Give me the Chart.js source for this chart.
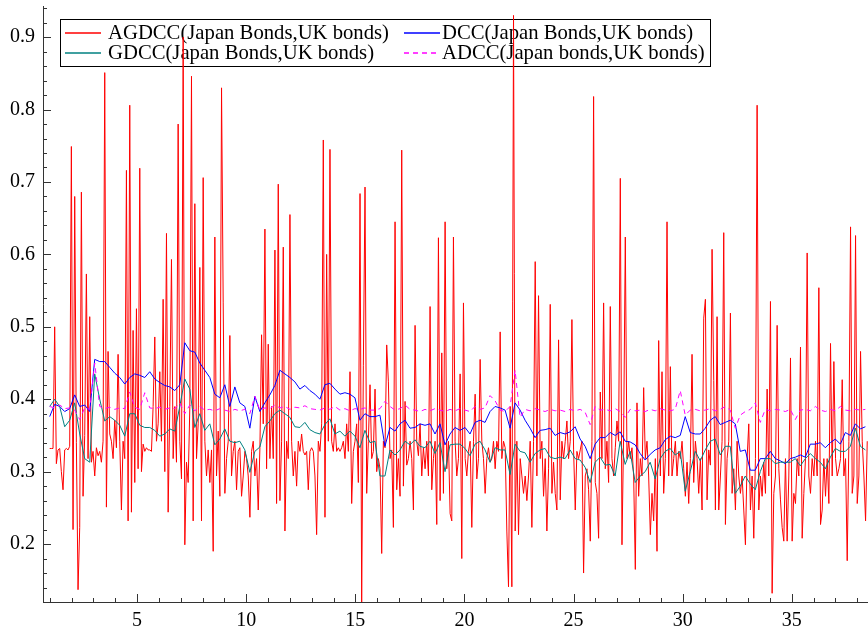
<!DOCTYPE html>
<html>
<head>
<meta charset="utf-8">
<script src="https://cdn.jsdelivr.net/npm/chart.js@4.4.1/dist/chart.umd.min.js"></script>
<style>
  html, body { margin: 0; padding: 0; background: #fff; overflow: hidden; }
  canvas { display: block; }
</style>
</head>
<body>
<canvas id="chart" width="868" height="632"></canvas>
<script>
// series labels
const seriesLabels = [
    "AGDCC(Japan Bonds,UK bonds)",
    "DCC(Japan Bonds,UK bonds)",
    "GDCC(Japan Bonds,UK bonds)",
    "ADCC(Japan bonds,UK bonds)"
];

// time span covered by every series (x axis units)
const tStart = 0.994;
const tEnd = 38.455;
const tEndSmooth = 38.37;

// AGDCC (dense, spiky)
const agdcc = [
    0.332,0.332,0.332,0.50,0.311,0.33,0.332,0.30,0.275,0.33,
    0.332,0.33,0.335,0.749,0.22,0.68,0.34,0.137,0.223,0.686,
    0.266,0.35,0.573,0.318,0.514,0.313,0.328,0.294,0.333,0.322,
    0.328,0.313,0.342,0.851,0.251,0.466,0.352,0.342,0.318,0.371,
    0.333,0.462,0.342,0.247,0.342,0.318,0.716,0.232,0.806,0.244,
    0.495,0.285,0.525,0.304,0.719,0.30,0.338,0.328,0.333,0.33,
    0.33,0.328,0.39,0.486,0.342,0.366,0.438,0.342,0.538,0.30,
    0.629,0.244,0.39,0.593,0.318,0.39,0.313,0.78,0.342,0.29,
    0.90,0.199,0.313,0.285,0.39,0.846,0.232,0.67,0.318,0.366,
    0.582,0.232,0.706,0.342,0.294,

    0.33,0.285,0.33,0.19,0.624,0.294,0.356,0.266,0.83,0.533,
    0.27,0.318,0.342,0.488,0.294,0.328,0.342,0.275,0.328,0.333,
    0.266,0.294,0.328,0.318,0.294,0.237,0.328,0.342,0.294,0.318,
    0.247,0.333,0.489,0.366,0.635,0.304,0.476,0.318,0.39,0.318,
    0.606,0.256,0.697,0.26,0.342,0.61,0.218,0.342,0.318,0.655,
    0.342,0.294,0.328,0.28,0.342,0.328,0.352,0.328,0.323,0.328,
    0.275,0.328,0.333,0.328,0.294,0.213,0.342,0.328,0.366,0.758,
    0.237,0.60,0.342,0.745,0.342,0.328,0.366,0.328,0.333,0.328,
    0.333,0.342,0.318,0.366,0.328,0.438,0.256,0.328,0.342,0.366,
    0.285,0.684,0.12,0.447,0.693,0.27,0.342,0.42,0.318,

    0.328,0.414,0.30,0.318,0.304,0.187,0.342,0.333,0.475,0.424,
    0.318,0.33,0.223,0.645,0.275,0.318,0.266,0.744,0.28,0.397,
    0.309,0.318,0.342,0.318,0.247,0.502,0.342,0.322,0.366,0.294,
    0.333,0.304,0.342,0.294,0.528,0.275,0.318,0.342,0.227,0.623,
    0.26,0.464,0.27,0.645,0.304,0.342,0.242,0.232,0.624,0.342,
    0.294,0.318,0.435,0.18,0.533,0.318,0.294,0.328,0.342,0.223,
    0.342,0.407,0.29,0.318,0.455,0.342,0.318,0.27,0.318,0.333,
    0.313,0.318,0.342,0.304,0.342,0.328,0.493,0.318,0.342,0.333,
    0.218,0.141,0.39,0.141,0.93,0.218,0.342,0.213,0.318,0.294,
    0.27,0.294,0.26,0.294,0.342,0.223,0.342,0.59,0.294,

    0.543,0.318,0.342,0.266,0.318,0.218,0.304,0.531,0.27,0.313,
    0.27,0.247,0.482,0.261,0.342,0.318,0.342,0.37,0.318,0.342,
    0.51,0.33,0.247,0.328,0.318,0.33,0.342,0.16,0.294,0.304,
    0.275,0.204,0.342,0.818,0.285,0.27,0.208,0.41,0.318,0.533,
    0.304,0.342,0.285,0.528,0.318,0.294,0.333,0.37,0.342,0.705,
    0.199,0.352,0.624,0.318,0.342,0.318,0.333,0.294,0.165,0.395,
    0.266,0.318,0.294,0.416,0.318,0.342,0.294,0.213,0.27,0.232,
    0.318,0.19,0.481,0.294,0.438,0.27,0.318,0.645,0.294,0.445,
    0.294,0.318,0.342,0.294,0.328,0.318,0.342,0.304,0.266,0.313,
    0.256,0.318,0.462,0.285,0.342,0.318,0.27,0.318,0.247,

    0.512,0.538,0.261,0.33,0.309,0.607,0.426,0.247,0.514,0.247,
    0.294,0.342,0.63,0.227,0.318,0.342,0.519,0.27,0.304,0.247,
    0.342,0.294,0.27,0.294,0.247,0.199,0.318,0.366,0.247,0.294,
    0.208,0.318,0.806,0.247,0.294,0.266,0.313,0.27,0.414,0.294,
    0.535,0.132,0.27,0.294,0.502,0.304,0.261,0.223,0.204,0.318,
    0.204,0.294,0.457,0.204,0.27,0.256,0.318,0.294,0.472,0.208,
    0.27,0.318,0.602,0.294,0.27,0.318,0.294,0.342,0.294,0.554,
    0.227,0.247,0.318,0.266,0.318,0.256,0.477,0.294,0.452,0.318,
    0.294,0.304,0.318,0.427,0.294,0.318,0.177,0.342,0.638,0.27,
    0.294,0.626,0.256,0.294,0.466,0.342,0.294,0.232,0.342
];

// DCC
const dcc = [
    0.376,0.393,0.390,0.383,0.387,0.406,0.39,0.392,0.383,0.455,0.452,0.452,0.444,0.436,0.430,0.421,
    0.43,0.435,0.433,0.43,0.438,0.428,0.423,0.419,0.417,0.412,0.42,0.478,0.467,0.465,0.45,0.44,
    0.43,0.407,0.402,0.42,0.39,0.417,0.395,0.39,0.36,0.404,0.383,0.395,0.406,0.419,0.44,0.435,0.43,
    0.424,0.414,0.419,0.412,0.407,0.40,0.42,0.422,0.414,0.407,0.409,0.407,0.402,0.371,0.38,0.376,
    0.376,0.378,0.335,0.361,0.356,0.366,0.371,0.36,0.361,0.366,0.364,0.366,0.352,0.366,0.337,0.352,0.361,
    0.357,0.361,0.352,0.368,0.371,0.368,0.383,0.39,0.388,0.385,0.36,0.395,0.385,0.371,0.36,0.347,
    0.357,0.358,0.36,0.35,0.354,0.352,0.355,0.362,0.345,0.335,0.318,0.338,0.347,0.347,0.354,0.35,0.355,
    0.342,0.341,0.337,0.325,0.316,0.324,0.33,0.333,0.344,0.349,0.347,0.35,0.376,0.354,0.352,0.352,
    0.36,0.371,0.376,0.365,0.368,0.371,0.366,0.328,0.33,0.302,0.302,0.318,0.318,0.328,0.318,0.315,0.311,
    0.318,0.32,0.323,0.32,0.338,0.338,0.34,0.333,0.34,0.345,0.338,0.354,0.35,0.366,0.359,0.362
];

// GDCC
const gdcc = [
    0.39,0.4,0.39,0.362,0.371,0.395,0.352,0.318,0.313,0.435,0.4,0.37,0.376,0.371,0.364,0.349,
    0.38,0.38,0.364,0.361,0.361,0.357,0.349,0.352,0.359,0.356,0.39,0.428,0.414,0.361,0.38,0.357,
    0.366,0.337,0.345,0.359,0.342,0.34,0.342,0.33,0.299,0.328,0.334,0.362,0.37,0.38,0.385,0.38,0.375,
    0.362,0.361,0.368,0.358,0.354,0.352,0.365,0.373,0.352,0.356,0.349,0.356,0.349,0.333,0.357,0.34,
    0.342,0.294,0.294,0.33,0.323,0.33,0.342,0.337,0.344,0.335,0.333,0.342,0.325,0.34,0.3,0.337,0.338,
    0.338,0.332,0.322,0.338,0.342,0.33,0.313,0.333,0.33,0.33,0.296,0.338,0.328,0.326,0.313,0.325,
    0.33,0.332,0.32,0.318,0.32,0.318,0.33,0.318,0.316,0.306,0.285,0.313,0.32,0.309,0.31,0.294,0.342,
    0.31,0.328,0.285,0.294,0.3,0.313,0.29,0.318,0.328,0.332,0.323,0.328,0.273,0.3,0.328,0.315,
    0.33,0.342,0.345,0.323,0.335,0.335,0.27,0.28,0.294,0.283,0.275,0.3,0.318,0.318,0.311,0.313,0.313,
    0.313,0.318,0.308,0.318,0.325,0.318,0.313,0.304,0.32,0.332,0.328,0.328,0.335,0.36,0.335,0.33
];

// ADCC
const adcc = [
    0.39,0.388,0.392,0.387,0.388,0.385,0.372,0.388,0.386,0.45,0.39,0.387,0.389,0.386,0.388,0.387,
    0.41,0.389,0.386,0.409,0.388,0.387,0.389,0.386,0.388,0.387,0.395,0.38,0.392,0.384,0.39,0.385,
    0.386,0.384,0.387,0.385,0.383,0.386,0.384,0.386,0.38,0.404,0.385,0.388,0.387,0.392,0.388,0.39,0.386,
    0.389,0.388,0.391,0.387,0.386,0.385,0.388,0.386,0.39,0.385,0.387,0.384,0.387,0.386,0.388,0.385,
    0.385,0.387,0.397,0.39,0.385,0.387,0.392,0.386,0.385,0.383,0.386,0.384,0.387,0.385,0.383,0.386,0.384,
    0.387,0.385,0.383,0.39,0.386,0.388,0.405,0.398,0.385,0.383,0.39,0.44,0.375,0.386,0.384,0.387,
    0.385,0.383,0.386,0.384,0.385,0.383,0.386,0.384,0.386,0.382,0.365,0.39,0.385,0.386,0.384,0.387,0.383,
    0.375,0.386,0.384,0.385,0.383,0.386,0.384,0.387,0.385,0.384,0.386,0.412,0.378,0.385,0.386,0.384,
    0.385,0.387,0.384,0.386,0.39,0.385,0.36,0.378,0.383,0.386,0.395,0.368,0.386,0.384,0.386,0.385,0.383,
    0.386,0.372,0.385,0.386,0.384,0.39,0.385,0.383,0.386,0.384,0.39,0.385,0.384,0.386,0.385,0.386
];

const seriesColors = ["#ff0000", "#0000ff", "#008080", "#ff00ff"];

// evenly spaced observations between start and end
function toPoints(values, end) {
    const step = (end - tStart) / (values.length - 1);
    return values.map((v, i) => ({ x: tStart + i * step, y: v }));
}

const serif = "'Liberation Serif', 'Times New Roman', serif";

// tick marks pointing into the plot, majors longer
const innerTicks = {
    id: "innerTicks",
    afterDraw(chart) {
        const { ctx, chartArea: area } = chart;
        const xs = chart.scales.x, ys = chart.scales.y;
        ctx.save();
        ctx.strokeStyle = "#333";
        ctx.lineWidth = 1;
        ctx.beginPath();
        for (let v = Math.ceil(xs.min); v <= xs.max; v++) {
            const px = Math.round(xs.getPixelForValue(v)) + 0.5;
            const len = v % 5 === 0 ? 8 : 4;
            ctx.moveTo(px, area.bottom);
            ctx.lineTo(px, area.bottom - len);
        }
        for (let k = Math.ceil(ys.min * 50); k <= Math.floor(ys.max * 50); k++) {
            const py = Math.round(ys.getPixelForValue(k / 50)) + 0.5;
            const len = k % 5 === 0 ? 8 : 4;
            ctx.moveTo(area.left, py);
            ctx.lineTo(area.left + len, py);
        }
        ctx.stroke();
        ctx.restore();
    }
};

// boxed two-column legend, drawn under the lines
const boxLegend = {
    id: "boxLegend",
    beforeDatasetsDraw(chart) {
        const ctx = chart.ctx;
        const box = { left: 60, top: 19, right: 710, bottom: 66 };
        const sampleX = [65, 404];
        const textX = [108, 442];
        const rows = [33, 53];
        ctx.save();
        ctx.fillStyle = "#fff";
        ctx.fillRect(box.left, box.top, box.right - box.left, box.bottom - box.top);
        ctx.strokeStyle = "#000";
        ctx.lineWidth = 1;
        ctx.strokeRect(box.left + 0.5, box.top + 0.5, box.right - box.left, box.bottom - box.top);
        ctx.font = "20.7px " + serif;
        ctx.textBaseline = "middle";
        chart.data.datasets.forEach((ds, i) => {
            const col = i % 2, cy = rows[Math.floor(i / 2)];
            ctx.strokeStyle = seriesColors[i];
            ctx.lineWidth = 1.3;
            ctx.setLineDash(ds.borderDash || []);
            ctx.beginPath();
            ctx.moveTo(sampleX[col], cy);
            ctx.lineTo(sampleX[col] + 36, cy);
            ctx.stroke();
            ctx.setLineDash([]);
            ctx.fillStyle = "#000";
            ctx.fillText(ds.label, textX[col], cy + 1);
        });
        ctx.restore();
    }
};

new Chart(document.getElementById("chart"), {
    type: "line",
    data: {
        datasets: [
            { label: seriesLabels[0], data: toPoints(agdcc, tEnd), borderColor: seriesColors[0], order: 4 },
            { label: seriesLabels[1], data: toPoints(dcc, tEndSmooth), borderColor: seriesColors[1], order: 3 },
            { label: seriesLabels[2], data: toPoints(gdcc, tEndSmooth), borderColor: seriesColors[2], order: 2 },
            { label: seriesLabels[3], data: toPoints(adcc, tEndSmooth), borderColor: seriesColors[3], borderDash: [5, 4], order: 1 }
        ]
    },
    options: {
        responsive: false,
        animation: false,
        devicePixelRatio: 1,
        layout: { padding: { top: 6, right: 0, left: 0, bottom: 0 } },
        elements: {
            point: { radius: 0 },
            line: { borderWidth: 1, tension: 0, fill: false }
        },
        plugins: { legend: { display: false }, tooltip: { enabled: false } },
        scales: {
            x: {
                type: "linear",
                min: 0.688,
                max: 38.49,
                grid: { display: false, drawTicks: false },
                border: { display: true, color: "#333", width: 1 },
                ticks: {
                    stepSize: 5,
                    includeBounds: false,
                    padding: 7,
                    color: "#000",
                    font: { family: serif, size: 20 },
                    maxRotation: 0
                },
                afterFit(scale) {
                    scale.height = 30;
                    scale.paddingLeft = 0;
                    scale.paddingRight = 0;
                }
            },
            y: {
                min: 0.12,
                max: 0.943,
                grid: { display: false, drawTicks: false },
                border: { display: true, color: "#333", width: 1 },
                ticks: {
                    stepSize: 0.1,
                    includeBounds: false,
                    padding: 8,
                    color: "#000",
                    font: { family: serif, size: 20 },
                    callback: (v) => v.toFixed(1)
                },
                afterFit(scale) {
                    scale.width = 43;
                    scale.paddingTop = 0;
                    scale.paddingBottom = 0;
                }
            }
        }
    },
    plugins: [innerTicks, boxLegend]
});
</script>
</body>
</html>
